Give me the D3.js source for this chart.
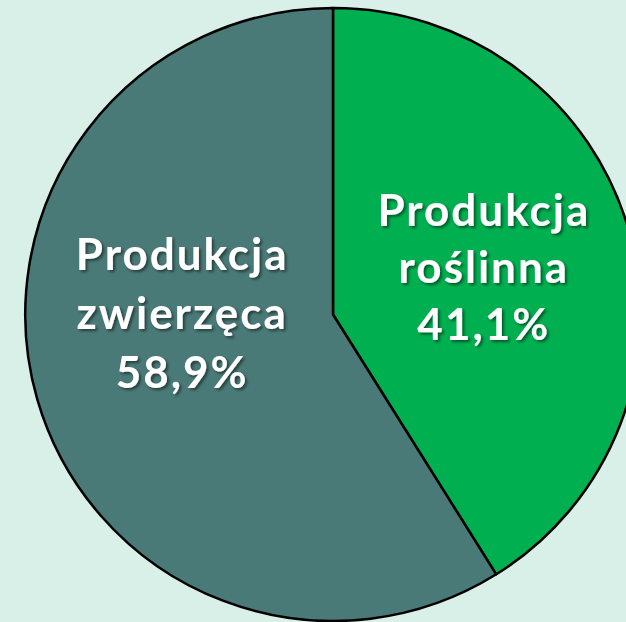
<!DOCTYPE html>
<html><head><meta charset="utf-8">
<script src="https://cdn.jsdelivr.net/npm/d3@7"></script>
<style>html,body{margin:0;padding:0;background:#d9f0e9;}svg{display:block;}</style>
</head><body>
<script>
const categories = ["Produkcja roślinna", "Produkcja zwierzęca"];
const values = [41.1, 58.9];
const labelLines = [["Produkcja", "roślinna", "41,1%"], ["Produkcja", "zwierzęca", "58,9%"]];
const colors = ["#00b050", "#4a7a77"];

const W = 626, H = 622;
const svg = d3.select("body").append("svg").attr("width", W).attr("height", H);
svg.append("rect").attr("width", W).attr("height", H).attr("fill", "#d9f0e9");
const defs = svg.append("defs");
const f = defs.append("filter").attr("id", "sh").attr("x", "-20%").attr("y", "-20%").attr("width", "140%").attr("height", "140%");
f.append("feDropShadow").attr("dx", 2).attr("dy", 2).attr("stdDeviation", 1.5).attr("flood-color", "#000").attr("flood-opacity", 0.5);

const cx = 333, cy = 314.5, r = 306.5;
const g = svg.append("g").attr("transform", `translate(${cx},${cy}) scale(1.004,1)`);
const pie = d3.pie().sort(null).value(d => d)(values);
const arc = d3.arc().innerRadius(0).outerRadius(r);
g.selectAll("path").data(pie).join("path")
  .attr("d", arc).attr("fill", (d, i) => colors[i])
  .attr("stroke", "#000").attr("stroke-width", 2.5).attr("stroke-linejoin", "round");

const lab = svg.append("g").attr("filter", "url(#sh)");
const yShift = [12, -29];
const lineGap = [57, 59];
pie.forEach((d, i) => {
  const mid = (d.startAngle + d.endAngle) / 2;
  const rr = r * 0.512;
  const x = cx + Math.sin(mid) * rr;
  const y = cy - Math.cos(mid) * rr + yShift[i];
  const t = lab.append("text").attr("x", x).attr("y", y)
    .attr("text-anchor", "middle").attr("fill", "#fff")
    .attr("font-family", "Lato, 'Open Sans', sans-serif").attr("font-weight", "bold")
    .attr("font-size", 44).attr("letter-spacing", 2);
  labelLines[i].forEach((s, k) => {
    t.append("tspan").attr("x", x).attr("y", y + (k - 1) * lineGap[i]).text(s);
  });
});
</script>
</body></html>
